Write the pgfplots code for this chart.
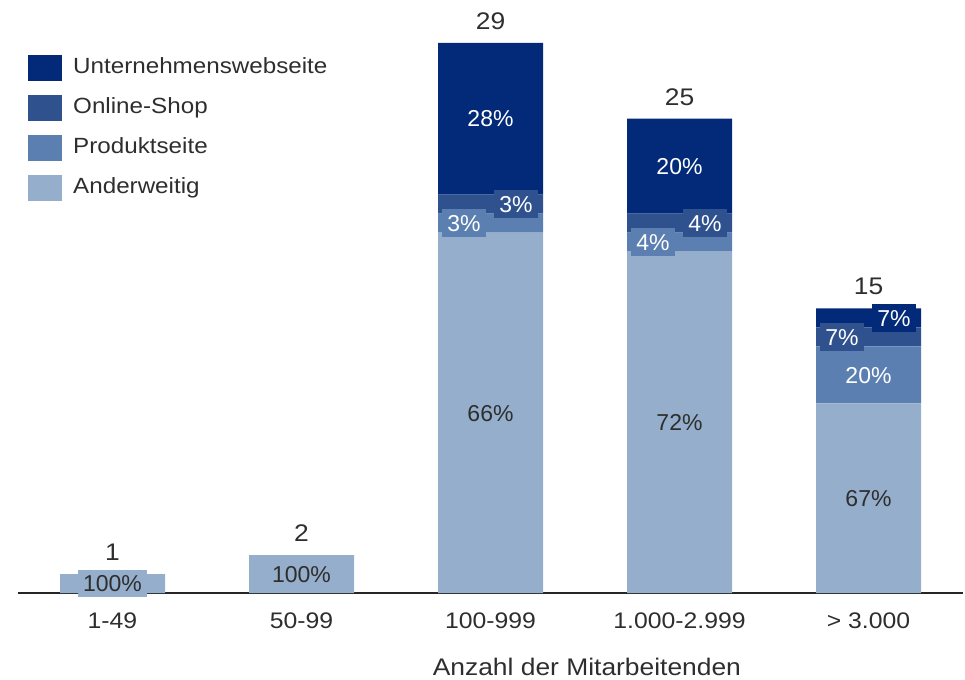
\documentclass[border=0pt]{standalone}
\usepackage{fontspec}
\setmainfont{Liberation Sans}[FakeStretch=1.1]
\newfontfamily\segfont{Liberation Sans}
\usepackage{pgfplots}
\usepackage{pgfplotstable}
\pgfplotsset{compat=1.18}
\definecolor{cU}{HTML}{022A78}
\definecolor{cO}{HTML}{2F528F}
\definecolor{cP}{HTML}{5B7FB0}
\definecolor{cA}{HTML}{95AECC}
\definecolor{txt}{HTML}{2E2E2E}
\newcommand{\lbl}{\segfont\fontsize{23}{27}\selectfont}
\newcommand{\tot}{\fontsize{24}{28}\selectfont}
\pgfplotstableread{
x A P O U
0 1 0 0 0
1 2 0 0 0
2 19 1 1 8
3 18 1 1 5
4 10 3 1 1
}\data
\pgfplotsset{sqleg/.style={legend image code/.code={\fill[##1] (0pt,-13pt) rectangle (34pt,13pt); \path (43pt,0pt);}}}
\tikzset{seg/.style={font=\lbl, inner xsep=5.5pt, inner ysep=5.5pt, text height=16.5pt, text depth=0pt},
         tl/.style={font=\tot, text=txt, yshift=22pt, text height=17pt, text depth=0pt}}
\begin{document}
\begin{tikzpicture}
\begin{axis}[
  scale only axis, width=945pt, height=593pt,
  ybar stacked, bar width=105pt,
  xmin=-0.5, xmax=4.5, ymin=0, ymax=31.26,
  axis x line=bottom, axis y line=none,
  x axis line style={-, line width=1.4pt, color=black!85},
  xtick={0,1,2,3,4},
  xticklabels={1-49,50-99,100-999,1.000-2.999,> 3.000},
  major tick length=0pt,
  xticklabel style={font=\fontsize{22.5}{26}\selectfont, text=txt, anchor=center, yshift=-27.5pt, text height=16pt, text depth=0pt},
  xlabel={Anzahl der Mitarbeitenden},
  xlabel style={font=\fontsize{24}{28}\selectfont, text=txt, at={(axis description cs:0.602,0)}, anchor=center, yshift=-74pt, text height=17pt, text depth=0pt},
  enlargelimits=false, clip=false,
  reverse legend,
  legend style={draw=none, fill=none, at={(axis description cs:0,1)}, anchor=north west, xshift=10pt, yshift=-55pt, inner sep=0pt, row sep=14pt, font=\fontsize{22}{26}\selectfont, text=txt, cells={anchor=west}, nodes={inner sep=2pt, text height=16pt, text depth=5pt}},
]
\addplot[fill=cA, draw=none, sqleg] table[x=x, y=A] {\data};
\addlegendentry{Anderweitig}
\addplot[fill=cP, draw=none, sqleg] table[x=x, y=P] {\data};
\addlegendentry{Produktseite}
\addplot[fill=cO, draw=none, sqleg] table[x=x, y=O] {\data};
\addlegendentry{Online-Shop}
\addplot[fill=cU, draw=none, sqleg] table[x=x, y=U] {\data};
\addlegendentry{Unternehmenswebseite}
% totals positions
\coordinate (t0) at (axis cs:0,1);
\coordinate (t1) at (axis cs:1,2);
\coordinate (t2) at (axis cs:2,29);
\coordinate (t3) at (axis cs:3,25);
\coordinate (t4) at (axis cs:4,15);
% segment label positions
\coordinate (a0) at (axis cs:0,0.5);
\coordinate (a1) at (axis cs:1,1);
\coordinate (a2) at (axis cs:2,9.5);
\coordinate (p2) at (axis cs:2,19.5);
\coordinate (o2) at (axis cs:2,20.5);
\coordinate (u2) at (axis cs:2,25);
\coordinate (a3) at (axis cs:3,9);
\coordinate (p3) at (axis cs:3,18.5);
\coordinate (o3) at (axis cs:3,19.5);
\coordinate (u3) at (axis cs:3,22.5);
\coordinate (a4) at (axis cs:4,5);
\coordinate (p4) at (axis cs:4,11.5);
\coordinate (o4) at (axis cs:4,13.5);
\coordinate (u4) at (axis cs:4,14.5);
\end{axis}
\node[tl] at (t0) {1};
\node[tl] at (t1) {2};
\node[tl] at (t2) {29};
\node[tl] at (t3) {25};
\node[tl] at (t4) {15};
\node[seg, fill=cA, text=txt] at (a0) {100\%};
\node[seg, fill=cA, text=txt] at (a1) {100\%};
\node[seg, fill=cA, text=txt] at (a2) {66\%};
\node[seg, fill=cP, text=white, xshift=-26.5pt] at (p2) {3\%};
\node[seg, fill=cO, text=white, xshift=25.5pt] at (o2) {3\%};
\node[seg, fill=cU, text=white] at (u2) {28\%};
\node[seg, fill=cA, text=txt] at (a3) {72\%};
\node[seg, fill=cP, text=white, xshift=-26.5pt] at (p3) {4\%};
\node[seg, fill=cO, text=white, xshift=25.5pt] at (o3) {4\%};
\node[seg, fill=cU, text=white] at (u3) {20\%};
\node[seg, fill=cA, text=txt] at (a4) {67\%};
\node[seg, fill=cP, text=white] at (p4) {20\%};
\node[seg, fill=cO, text=white, xshift=-26.5pt] at (o4) {7\%};
\node[seg, fill=cU, text=white, xshift=25.5pt] at (u4) {7\%};
\pgfresetboundingbox
\useasboundingbox (-18pt,-86pt) rectangle (947pt,593pt);
\end{tikzpicture}
\end{document}
